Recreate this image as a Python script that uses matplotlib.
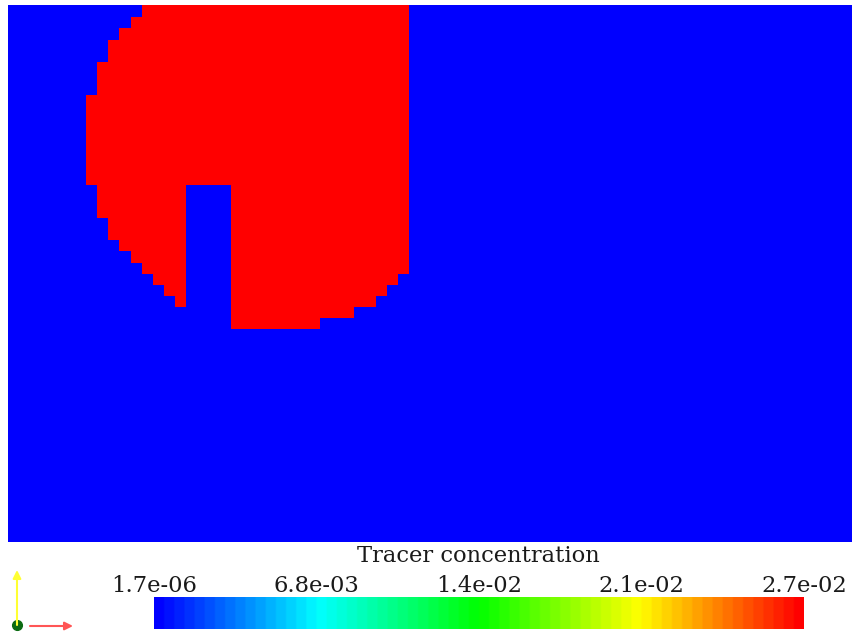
import numpy as np
import matplotlib.pyplot as plt
from matplotlib.colors import ListedColormap, hsv_to_rgb

# Tracer field on a 76 x 49 cell grid (row 0 at the top)
nx, ny = 76, 49
c_low = 1.7e-06   # background concentration
c_high = 2.735e-02  # concentration inside the slotted disk

# slotted disk, upper rows (0-15): first red column per row, last red column
disk_top_start = [12, 11, 10, 9, 9, 8, 8, 8, 7, 7, 7, 7, 7, 7, 7, 7]
disk_top_end = 35
# left lobe below the slot top (rows 16-26)
left_lobe_start = [8, 8, 8, 9, 9, 10, 11, 12, 13, 14, 15]
left_lobe_end = 15
# right lobe below the slot top (rows 16-28)
right_lobe_start = 20
right_lobe_end = [35, 35, 35, 35, 35, 35, 35, 35, 34, 33, 32, 30, 27]

cbar_title = "Tracer concentration"
cbar_labels = ["1.7e-06", "6.8e-03", "1.4e-02", "2.1e-02", "2.7e-02"]

# build the field
field = np.full((ny, nx), c_low)
for i, s in enumerate(disk_top_start):
    field[i, s:disk_top_end + 1] = c_high
r0 = len(disk_top_start)
for k, s in enumerate(left_lobe_start):
    field[r0 + k, s:left_lobe_end + 1] = c_high
for k, e in enumerate(right_lobe_end):
    field[r0 + k, right_lobe_start:e + 1] = c_high

# blue -> red rainbow (hsv), 64 bands
hues = np.linspace(2/3, 0, 64)
cmap = ListedColormap(hsv_to_rgb(np.column_stack([hues, np.ones(64), np.ones(64)])))

plt.rcParams['font.family'] = ['DejaVu Serif']
fig = plt.figure(figsize=(8.54, 6.36), dpi=100)
W, H = 854, 636

ax = fig.add_axes([8/W, 1 - 542/H, 844/W, 537/H])
# top row is cut slightly by the view
y_edges = np.r_[-0.1, np.arange(1, ny + 1)]
ax.pcolormesh(np.arange(nx + 1), y_edges, field, cmap=cmap,
              vmin=c_low, vmax=c_high)
ax.set_xlim(0, 75.7)
ax.set_ylim(48.06, -0.1)
ax.axis('off')

# colour legend
cax = fig.add_axes([154/W, 1 - 629/H, 650/W, 32/H])
grad = np.linspace(c_low, c_high, 256).reshape(1, -1)
cax.imshow(grad, aspect='auto', cmap=cmap, vmin=c_low, vmax=c_high,
           extent=[c_low, c_high, 0, 1])
cax.set_xticks(np.linspace(c_low, c_high, len(cbar_labels)))
cax.set_xticklabels(cbar_labels, fontsize=16.3, color='#1a1a1a')
cax.xaxis.tick_top()
cax.tick_params(axis='x', length=0, pad=0)
cax.set_yticks([])
for sp in cax.spines.values():
    sp.set_visible(False)
fig.text(478/W, 1 - 556/H, cbar_title, ha='center', va='center',
         fontsize=16.3, color='#1a1a1a')

# orientation triad
tax = fig.add_axes([0, 0, 90/W, 76/H])
tax.set_xlim(0, 90)
tax.set_ylim(76, 0)
tax.axis('off')
tax.annotate('', xy=(17, 10), xytext=(17, 65),
             arrowprops=dict(arrowstyle='-|>', color='#ffff33', lw=1.5,
                             mutation_scale=12, shrinkA=0, shrinkB=0))
tax.annotate('', xy=(73, 66), xytext=(30, 66),
             arrowprops=dict(arrowstyle='-|>', color='#ff5555', lw=1.5,
                             mutation_scale=12, shrinkA=0, shrinkB=0))
tax.plot(17, 65, 'o', color='#0b6b12', ms=7)

fig.savefig("out.png", dpi=100)
